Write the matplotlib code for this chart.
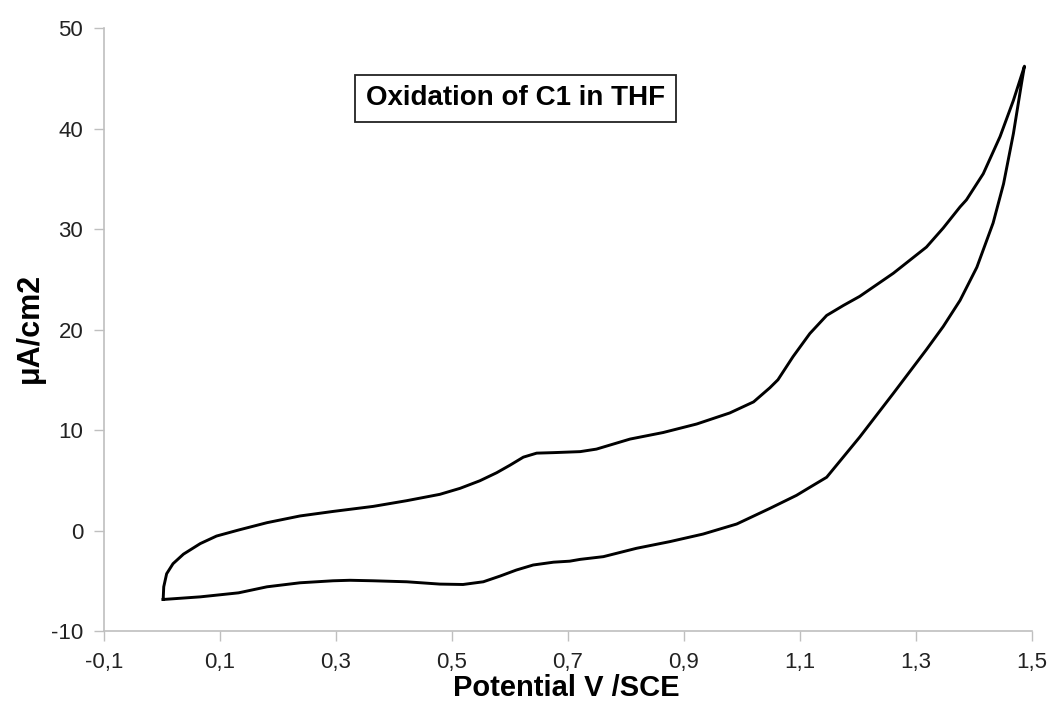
import matplotlib
matplotlib.use('Agg')
import matplotlib.pyplot as plt
from matplotlib.ticker import FuncFormatter

plt.rcParams['font.family'] = ['Liberation Sans', 'DejaVu Sans']
plt.rcParams['axes.unicode_minus'] = False

# forward scan (upper branch), V vs SCE / uA cm-2
fwd_v = [0.002, 0.003, 0.008, 0.019, 0.037, 0.066, 0.094, 0.132, 0.181, 0.238,
         0.295, 0.364, 0.422, 0.479, 0.514, 0.548, 0.577, 0.600, 0.623, 0.646,
         0.675, 0.721, 0.749, 0.807, 0.864, 0.922, 0.979, 1.020, 1.048, 1.062,
         1.088, 1.117, 1.146, 1.175, 1.203, 1.261, 1.318, 1.347, 1.376, 1.387,
         1.416, 1.445, 1.468, 1.487]
fwd_i = [-6.86, -5.6, -4.3, -3.3, -2.35, -1.3, -0.55, 0.05, 0.78, 1.45,
         1.9, 2.4, 2.97, 3.6, 4.2, 4.95, 5.75, 6.5, 7.3, 7.7,
         7.75, 7.85, 8.1, 9.1, 9.75, 10.6, 11.7, 12.8, 14.2, 15.0,
         17.3, 19.6, 21.4, 22.4, 23.3, 25.6, 28.2, 30.1, 32.2, 32.9,
         35.5, 39.2, 42.8, 46.2]

# reverse scan (lower branch)
rev_v = [1.487, 1.482, 1.468, 1.451, 1.433, 1.405, 1.376, 1.347, 1.318, 1.261,
         1.203, 1.146, 1.117, 1.094, 1.048, 0.991, 0.933, 0.876, 0.818, 0.761,
         0.721, 0.703, 0.675, 0.640, 0.611, 0.583, 0.554, 0.519, 0.479, 0.422,
         0.364, 0.324, 0.295, 0.238, 0.181, 0.132, 0.066, 0.002]
rev_i = [46.2, 44.5, 39.5, 34.5, 30.6, 26.2, 22.9, 20.3, 18.0, 13.65,
         9.3, 5.3, 4.3, 3.5, 2.2, 0.65, -0.35, -1.1, -1.77, -2.6,
         -2.87, -3.05, -3.15, -3.43, -3.93, -4.53, -5.1, -5.37, -5.33, -5.1,
         -5.0, -4.95, -5.0, -5.2, -5.6, -6.2, -6.6, -6.86]

xticks = [-0.1, 0.1, 0.3, 0.5, 0.7, 0.9, 1.1, 1.3, 1.5]
yticks = [-10, 0, 10, 20, 30, 40, 50]

fig = plt.figure(figsize=(10.58, 7.02), dpi=100)
ax = fig.add_axes([0.0983, 0.1011, 0.8771, 0.859])

ax.plot(fwd_v + rev_v, fwd_i + rev_i, color='black', lw=2.1,
        solid_joinstyle='round')

ax.set_xlim(-0.1, 1.5)
ax.set_ylim(-10, 50)
ax.set_xticks(xticks)
ax.set_yticks(yticks)
ax.xaxis.set_major_formatter(FuncFormatter(lambda v, p: ('%.1f' % v).replace('.', ',')))
ax.tick_params(axis='both', direction='out', length=7, width=1, color='#bfbfbf',
               labelsize=16, labelcolor='#222222')
ax.tick_params(axis='y', pad=8)
ax.tick_params(axis='x', pad=8)

for s in ['top', 'right']:
    ax.spines[s].set_visible(False)
for s in ['left', 'bottom']:
    ax.spines[s].set_color('#bfbfbf')
    ax.spines[s].set_linewidth(1.2)

ax.set_xlabel('Potential V /SCE', fontsize=21, fontweight='bold')
ax.set_ylabel('\u03bcA/cm2', fontsize=22, fontweight='bold')
ax.xaxis.set_label_coords(0.498, -0.072)
ax.yaxis.set_label_coords(-0.0636, 0.502)

ax.text(0.6095, 43.0, 'Oxidation of C1 in THF', fontsize=20, fontweight='bold',
        ha='center', va='center',
        bbox=dict(boxstyle='square,pad=0.38', fc='white', ec='#222222', lw=1.3))

fig.savefig('out.png', dpi=100)
